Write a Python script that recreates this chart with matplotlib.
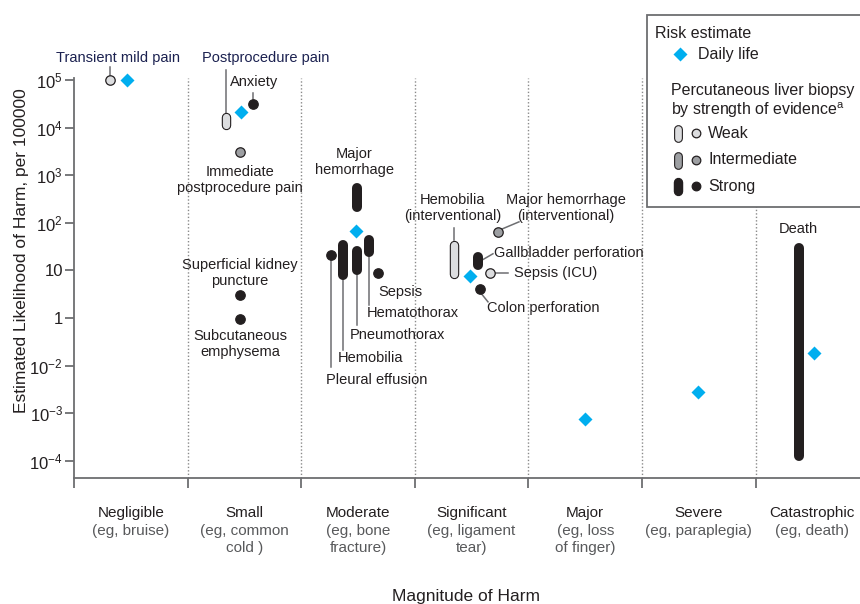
import numpy as np
import matplotlib
matplotlib.use("Agg")
import matplotlib.pyplot as plt
from matplotlib.patches import Rectangle

plt.rcParams['font.family'] = 'Liberation Sans'
plt.rcParams['mathtext.default'] = 'regular'

# harm categories along x
categories = ["Negligible", "Small", "Moderate", "Significant", "Major", "Severe", "Catastrophic"]
examples = ["(eg, bruise)", "(eg, common\ncold )", "(eg, bone\nfracture)", "(eg, ligament\ntear)",
            "(eg, loss\nof finger)", "(eg, paraplegia)", "(eg, death)"]

# y ticks as printed in the figure
ytick_vals = [1e5, 1e4, 1e3, 1e2, 1e1, 1e0, 1e-1, 1e-2, 1e-3]
ytick_labels = ["$10^5$", "$10^4$", "$10^3$", "$10^2$", "10", "1", "$10^{-2}$", "$10^{-3}$", "$10^{-4}$"]

# daily life risk estimates (diamonds)
daily_x = [0.47, 1.47, 2.48, 3.49, 4.50, 5.49, 6.51]
daily_y = [1.0e5, 2.1e4, 68, 7.6, 7.6e-3, 2.8e-2, 0.18]

# liver biopsy point estimates
pt_x = [0.32, 1.58, 1.46, 1.46, 1.46, 2.26, 2.68, 3.66, 3.57, 3.73]
pt_y = [1.0e5, 3.2e4, 3.0e3, 3.0, 0.95, 21, 9, 9, 4, 65]
pt_ev = ["weak", "strong", "intermediate", "strong", "strong", "strong", "strong",
         "weak", "strong", "intermediate"]

# liver biopsy ranges
rng_x = [1.34, 2.49, 2.37, 2.49, 2.60, 3.345, 3.555, 6.38]
rng_lo = [1.15e4, 214, 8, 10, 24, 8.5, 13, 1.26e-3]
rng_hi = [1.66e4, 537, 35, 26, 44, 35, 19, 30]
rng_ev = ["weak", "strong", "strong", "strong", "strong", "weak", "strong", "strong"]

fill = {"weak": "#dcdddf", "intermediate": "#9d9fa2", "strong": "#231f20"}
dark = "#231f20"
blue = "#00aeef"
navy = "#1b2150"
grey = "#6d6e71"


def ylog(p):
    return 10.0 ** p


def capsule(a, x, lo, hi, ev, lw=7.2):
    if ev == "strong":
        a.plot([x, x], [lo, hi], color=dark, lw=lw, solid_capstyle='round', zorder=4)
    else:
        a.plot([x, x], [lo, hi], color=dark, lw=lw - 0.4, solid_capstyle='round', zorder=4)
        a.plot([x, x], [lo, hi], color=fill[ev], lw=lw - 2.0, solid_capstyle='round', zorder=4)


fig = plt.figure(figsize=(8.6, 6.04), dpi=100)
ax = fig.add_axes([74 / 860, 126 / 604, 786 / 860, 400 / 604])
ax.set_yscale('log')
ax.set_xlim(0, 6.919)
ax.set_ylim(4.37e-4, 1.1e5)

for s in ['top', 'right']:
    ax.spines[s].set_visible(False)
for s in ['left', 'bottom']:
    ax.spines[s].set_color(grey)
    ax.spines[s].set_linewidth(1.3)

ax.set_yticks(ytick_vals)
ax.set_yticklabels(ytick_labels)
ax.yaxis.set_minor_locator(matplotlib.ticker.NullLocator())
ax.tick_params(axis='y', length=6.5, width=1.3, color=grey, labelsize=12, labelcolor=dark, pad=1.5)
ax.set_xticks(range(7))
ax.set_xticklabels([])
ax.tick_params(axis='x', length=7, width=1.3, color=grey)

for i in range(1, 7):
    ax.axvline(i, color='#8a8a8a', lw=1.0, ls=(0, (1, 1.5)), zorder=1)

# category labels
tr = ax.get_xaxis_transform()
for i, (c, e) in enumerate(zip(categories, examples)):
    ax.text(i + 0.5, -0.087, c, transform=tr, ha='center', va='center', fontsize=11, color=dark)
    ax.text(i + 0.5, -0.116, e, transform=tr, ha='center', va='top', fontsize=11,
            color='#58595b', linespacing=1.2)

# ranges and points
for x, lo, hi, ev in zip(rng_x, rng_lo, rng_hi, rng_ev):
    capsule(ax, x, lo, hi, ev)
for x, y, ev in zip(pt_x, pt_y, pt_ev):
    ax.plot(x, y, 'o', ms=6.8, mfc=fill[ev], mec=dark, mew=0.9, zorder=5, clip_on=False)
ax.plot(daily_x, daily_y, 'D', ms=7.6, color=blue, mec='none', ls='none', zorder=6, clip_on=False)

# leader lines
leaders = [
    ([0.317, 0.317], [5.1, 5.27]),
    ([1.34, 1.34], [4.31, 5.21]),
    ([1.58, 1.58], [4.6, 4.73]),
    ([2.26, 2.26], [1.22, -1.03]),
    ([2.37, 2.37], [0.8, -0.67]),
    ([2.49, 2.49], [0.9, -0.15]),
    ([2.60, 2.60], [1.28, 0.27]),
    ([3.345, 3.345], [1.64, 1.89]),
    ([3.594, 3.688], [1.22, 1.35]),
    ([3.706, 3.82], [0.95, 0.95]),
    ([3.59, 3.644], [0.5, 0.34]),
    ([3.768, 3.917], [1.87, 2.02]),
]
for xs, ps in leaders:
    ax.plot(xs, [ylog(p) for p in ps], color=grey, lw=1.1, zorder=3, clip_on=False)

labels = [
    ("Transient mild pain", 0.387, 5.46, 'center', navy),
    ("Postprocedure pain", 1.69, 5.46, 'center', navy),
    ("Anxiety", 1.585, 4.96, 'center', dark),
    ("Immediate\npostprocedure pain", 1.46, 2.9, 'center', dark),
    ("Superficial kidney\npuncture", 1.46, 0.95, 'center', dark),
    ("Subcutaneous\nemphysema", 1.46, -0.55, 'center', dark),
    ("Major\nhemorrhage", 2.47, 3.28, 'center', dark),
    ("Pleural effusion", 2.218, -1.30, 'left', dark),
    ("Hemobilia", 2.32, -0.84, 'left', dark),
    ("Pneumothorax", 2.43, -0.36, 'left', dark),
    ("Hematothorax", 2.577, 0.105, 'left', dark),
    ("Sepsis", 2.676, 0.55, 'left', dark),
    ("Hemobilia\n(interventional)", 3.336, 2.31, 'center', dark),
    ("Gallbladder perforation", 3.697, 1.37, 'left', dark),
    ("Sepsis (ICU)", 3.873, 0.95, 'left', dark),
    ("Colon perforation", 3.636, 0.21, 'left', dark),
    ("Major hemorrhage\n(interventional)", 4.33, 2.31, 'center', dark),
    ("Death", 6.376, 1.87, 'center', dark),
]
for t, x, p, ha, col in labels:
    ax.text(x, ylog(p), t, ha=ha, va='center', fontsize=10.5, color=col,
            linespacing=1.15, zorder=7)

fig.text(22 / 860, 1 - 251 / 604, "Estimated Likelihood of Harm, per 100000", rotation=90,
         ha='center', va='center', fontsize=12.5, color=dark)
fig.text(466 / 860, 1 - 596 / 604, "Magnitude of Harm", ha='center', va='center',
         fontsize=12.5, color=dark)

# legend box drawn in pixel space, running off the right edge
ov = fig.add_axes([0, 0, 1, 1], zorder=10)
ov.set_xlim(0, 860)
ov.set_ylim(604, 0)
ov.axis('off')
ov.add_patch(Rectangle((646.7, 15), 260, 192, facecolor='white', edgecolor=grey, lw=1.3,
                       clip_on=False))
ov.text(655, 34, "Risk estimate", ha='left', va='center', fontsize=11.5, color=dark)
ov.plot(680, 54, 'D', ms=7.6, color=blue, mec='none')
ov.text(698, 54, "Daily life", ha='left', va='center', fontsize=11.5, color=dark)
ov.text(671, 91, "Percutaneous liver biopsy", ha='left', va='center', fontsize=11.5, color=dark)
ov.text(671, 110, "by strength of evidence$^a$", ha='left', va='center', fontsize=11.5, color=dark)
for yy, ev, name in [(133, "weak", "Weak"), (160, "intermediate", "Intermediate"), (186, "strong", "Strong")]:
    capsule(ov, 678, yy + 4.5, yy - 4.5, ev, lw=6.8)
    ov.plot(696, yy, 'o', ms=6.2, mfc=fill[ev], mec=dark, mew=0.9)
    ov.text(708, yy, name, ha='left', va='center', fontsize=11.5, color=dark)

fig.savefig("out.png", dpi=100)
